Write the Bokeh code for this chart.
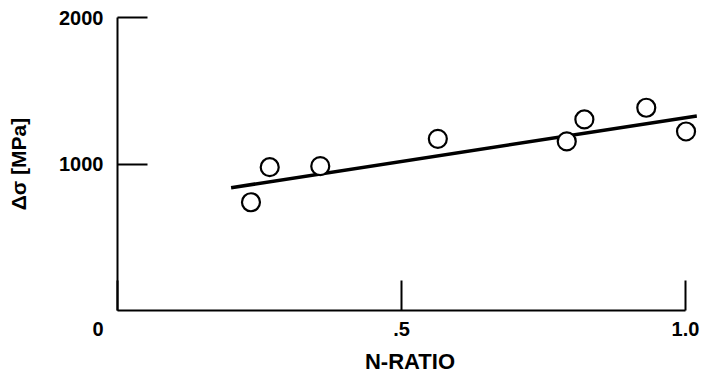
from bokeh.plotting import figure
from bokeh.models import Range1d, FixedTicker
from bokeh.embed import file_html
from bokeh.resources import INLINE

# data
n_ratio = [0.235, 0.268, 0.357, 0.564, 0.791, 0.822, 0.931, 1.001]
delta_sigma = [739, 978, 985, 1172, 1154, 1304, 1384, 1222]
fit_x = [0.20, 1.02]
fit_y = [838, 1328]
x_ticks = [0.0, 0.5, 1.0]
x_tick_labels = {0.0: "0" + "\u00a0" * 7, 0.5: ".5", 1.0: "1.0"}
y_ticks = [1000, 2000]
y_tick_labels = {1000: "1000", 2000: "2000"}

FONT = "Liberation Sans"

p = figure(width=702, height=380, output_backend="svg", toolbar_location=None,
           x_range=Range1d(0, 1.03), y_range=Range1d(0, 2000),
           min_border_left=117, min_border_right=0, min_border_top=17, min_border_bottom=70)
p.outline_line_color = None
p.grid.visible = False
p.background_fill_color = "white"
p.border_fill_color = "white"

for ax in (p.xaxis[0], p.yaxis[0]):
    ax.axis_line_width = 2
    ax.axis_line_color = "black"
    ax.major_tick_in = 30
    ax.major_tick_out = 0
    ax.major_tick_line_width = 2
    ax.major_tick_line_color = "black"
    ax.minor_tick_line_color = None
    ax.major_label_text_font = FONT
    ax.major_label_text_font_style = "bold"
    ax.major_label_text_font_size = "20px"
    ax.major_label_text_color = "black"
    ax.axis_label_text_font = FONT
    ax.axis_label_text_font_style = "bold"
    ax.axis_label_text_color = "black"

p.xaxis.bounds = (0, 1)
p.xaxis.ticker = FixedTicker(ticks=x_ticks)
p.xaxis.major_label_overrides = x_tick_labels
p.xaxis.major_label_standoff = 7
p.xaxis.axis_label = "N-RATIO"
p.xaxis.axis_label_text_font_size = "22px"
p.xaxis.axis_label_standoff = 6

p.yaxis.ticker = FixedTicker(ticks=y_ticks)
p.yaxis.major_label_overrides = y_tick_labels
p.yaxis.major_label_standoff = 14
p.yaxis.axis_label = "Δσ [MPa]"
p.yaxis.axis_label_text_font_size = "21px"
p.yaxis.axis_label_standoff = 26

p.line(fit_x, fit_y, line_color="black", line_width=3.5)
p.scatter(n_ratio, delta_sigma, size=18, marker="circle", fill_color="white",
          line_color="black", line_width=2.2)

open("out.html", "w").write(file_html(p, INLINE))
